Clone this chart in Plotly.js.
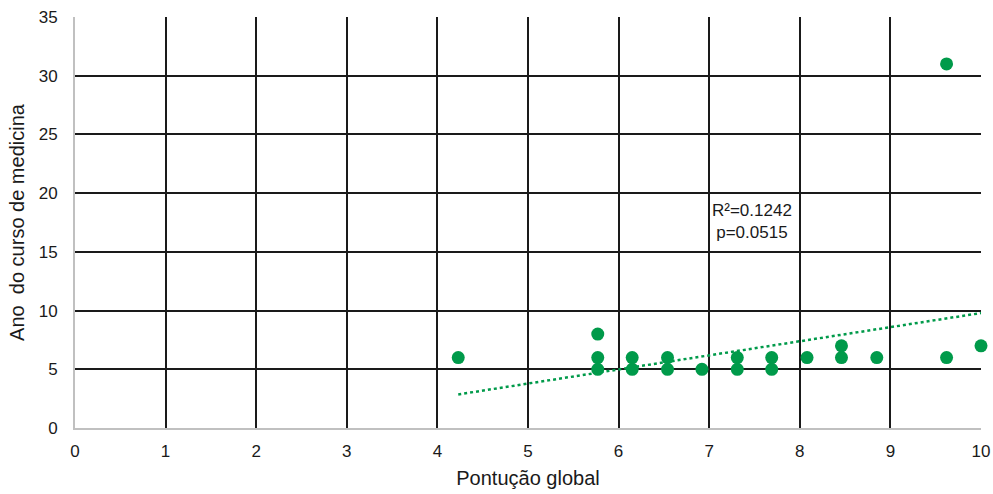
<!DOCTYPE html>
<html>
<head>
<meta charset="utf-8">
<script src="https://cdn.plot.ly/plotly-3.0.1.min.js"></script>
<style>
  html, body { margin: 0; padding: 0; background: #fff; }
  #chart { width: 993px; height: 494px; }
</style>
</head>
<body>
<div id="chart"></div>
<script>
// Global score vs. year of the medical course
const scoreX = [4.23, 5.77, 5.77, 5.77, 6.15, 6.15, 6.54, 6.54, 6.92, 7.31, 7.31,
                7.69, 7.69, 8.08, 8.46, 8.46, 8.85, 9.62, 9.62, 10];
const yearY  = [6, 8, 6, 5, 6, 5, 6, 5, 5, 6, 5,
                6, 5, 6, 7, 6, 6, 6, 31, 7];

// Linear trend line end points
const trendX = [4.23, 10];
const trendY = [2.86, 9.79];

const xTicks = [0, 1, 2, 3, 4, 5, 6, 7, 8, 9, 10];
const yTicks = [0, 5, 10, 15, 20, 25, 30, 35];

const statsText = 'R²=0.1242<br>p=0.0515';
const green = '#009a4a';
const font = 'Liberation Sans, Arial, Helvetica, sans-serif';

const data = [
  {
    x: trendX, y: trendY, type: 'scatter', mode: 'lines',
    line: { color: green, width: 2.5, dash: 'dot' },
    hoverinfo: 'skip', cliponaxis: false
  },
  {
    x: scoreX, y: yearY, type: 'scatter', mode: 'markers',
    marker: { color: green, size: 13 },
    cliponaxis: false
  }
];

const layout = {
  width: 993, height: 494,
  margin: { l: 75, r: 12, t: 17, b: 66 },
  paper_bgcolor: '#fff', plot_bgcolor: '#fff',
  showlegend: false,
  font: { family: font, size: 17, color: '#1a1a1a' },
  xaxis: {
    range: [0, 10], tickvals: xTicks, ticktext: xTicks.map(String),
    showgrid: true, gridcolor: '#1a1a1a', gridwidth: 2,
    zeroline: false, showline: true, linecolor: '#c0c0c0', linewidth: 2,
    ticks: '', ticklabelstandoff: 7,
    title: { text: 'Pontução global', font: { size: 20 }, standoff: 11 }
  },
  yaxis: {
    range: [0, 35], tickvals: yTicks, ticktext: yTicks.map(String),
    showgrid: true, gridcolor: '#1a1a1a', gridwidth: 2,
    zeroline: false, showline: true, linecolor: '#c0c0c0', linewidth: 2,
    ticks: '', ticklabelstandoff: 12,
    title: { text: 'Ano  do curso de medicina', font: { size: 20 }, standoff: 9 }
  },
  annotations: [
    {
      x: 7.47, y: 17.55, xref: 'x', yref: 'y',
      text: statsText, showarrow: false,
      font: { family: font, size: 17, color: '#1a1a1a' },
      align: 'center'
    }
  ]
};

Plotly.newPlot('chart', data, layout, { displayModeBar: false, staticPlot: true });
</script>
</body>
</html>
